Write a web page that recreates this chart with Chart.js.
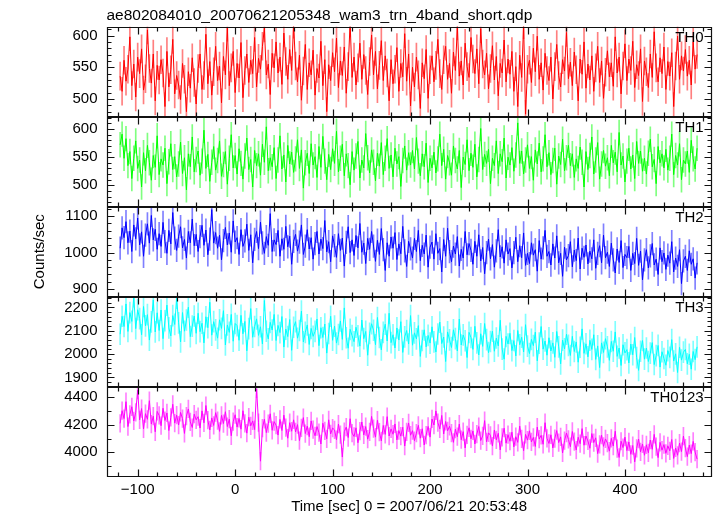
<!DOCTYPE html>
<html><head><meta charset="utf-8">
<script src="https://cdn.jsdelivr.net/npm/chart.js@4"></script>
<style>html,body{margin:0;padding:0;background:#fff}canvas{display:block}</style>
</head><body>
<canvas id="c" width="717" height="516"></canvas>
<script>
const TITLE = "ae802084010_20070621205348_wam3_trn_4band_short.qdp";
const X_TITLE = "Time [sec] 0 = 2007/06/21 20:53:48";
const Y_TITLE = "Counts/sec";
const PANEL_LABELS = ["TH0", "TH1", "TH2", "TH3", "TH0123"];
const T_START = -118, T_BIN = 2;
const X_TICKS = [-100, 0, 100, 200, 300, 400];
const X_RANGE = [-132, 489];
const Y_RANGES = [[472, 614], [462, 622], [879, 1126], [1860, 2246], [3822, 4477]];
const Y_TICKS = [[500, 550, 600], [500, 550, 600], [900, 1000, 1100], [1900, 2000, 2100, 2200], [4000, 4200, 4400]];
const Y_MINOR = [10, 10, 20, 20, 100];
const X_MINOR = 20;
const ERRORS = [22, 22, 31, 45, 64];

const TH0 = [
536,512,561,528,547,598,521,555,503,566,
540,579,514,532,609,548,525,571,497,553,
530,562,541,488,575,519,546,594,508,537,
522,499,556,531,480,543,517,565,526,492,
548,571,515,537,602,524,559,506,543,583,
529,552,494,567,538,613,521,549,575,510,
556,533,589,502,545,571,526,561,540,597,
519,564,547,583,612,538,555,507,572,549,
590,541,566,523,604,559,531,578,545,618,
552,527,569,498,544,586,515,557,538,577,
506,548,533,591,521,562,480,554,529,573,
543,596,518,560,537,582,509,551,620,534,
566,522,549,588,531,570,545,507,559,601,
538,575,516,553,592,529,568,541,497,562,
524,547,581,512,556,535,603,528,571,489,
550,519,566,538,485,557,532,578,501,546,
568,527,553,594,540,515,562,583,531,556,
509,574,545,615,536,560,522,588,551,534,
597,563,540,579,524,611,555,538,572,516,
548,584,530,567,505,556,541,593,527,563,
539,575,512,551,488,569,534,617,476,547,
561,526,580,543,599,531,557,514,572,545,
529,566,500,551,586,537,519,562,544,605,
532,558,521,574,546,497,563,539,590,517,
555,530,568,512,549,583,526,560,501,542,
576,535,557,520,598,541,566,508,552,587,
529,563,545,591,518,554,537,579,496,560,
543,518,571,534,606,549,527,565,540,582,
515,559,536,573,488,552,599,531,568,544,
578,536,561,522,590,547,570];

const TH1 = [
572,591,548,583,535,560,512,548,579,530,
545,497,558,526,571,540,509,553,532,588,
519,547,536,566,503,542,574,528,551,515,
538,577,521,549,492,556,533,586,524,546,
561,518,543,598,530,555,507,541,569,527,
544,579,516,537,560,502,548,590,531,553,
520,565,539,511,552,584,528,546,497,562,
535,556,518,573,541,604,526,549,533,567,
512,545,588,529,554,506,571,538,559,523,
547,581,530,563,495,540,557,521,574,536,
551,514,569,532,587,543,510,555,528,565,
539,596,524,548,573,517,556,535,501,560,
527,552,578,513,545,531,592,549,522,563,
541,508,557,534,576,519,548,583,530,554,
515,566,538,551,498,544,570,527,558,536,
562,529,585,543,517,556,533,575,505,548,
531,559,522,547,591,535,564,511,553,540,
518,570,544,529,562,496,550,537,581,526,
557,532,573,515,546,601,528,555,539,564,
503,548,535,579,521,556,542,584,513,550,
536,567,525,554,611,539,561,520,545,572,
530,551,509,563,538,575,524,547,590,533,
558,519,544,566,502,552,537,582,526,549,
571,535,556,514,547,530,568,541,497,560,
528,553,586,520,545,576,511,538,562,534,
549,517,571,540,559,524,594,536,552,506,
543,566,529,554,512,578,539,561,525,548,
520,557,582,533,546,503,569,540,556,531,
564,527,548,591,519,553,536,574,510,545,
538,561,523,580,547,529,566];

const TH2 = [
1012,1068,1041,1085,1027,1059,1003,1076,1038,1095,
1021,1057,990,1048,1079,1026,1102,1035,1064,1009,
1052,1017,1083,1030,998,1061,1024,1110,1040,1006,
1045,1071,1013,1036,985,1058,1027,1092,1019,1050,
1003,1044,1075,1020,1062,994,1037,1118,1026,1055,
1012,1048,980,1033,1069,1021,1054,1001,1087,1029,
1041,995,1063,1017,1032,1078,1006,1049,972,1036,
1058,1011,1084,1027,998,1044,1020,1107,1003,1035,
1022,1061,990,1038,1009,1072,1016,1045,968,1031,
1050,1004,1029,1076,995,1018,1063,1010,1041,982,
1025,1058,996,1037,1011,1088,1002,1030,975,1046,
1019,987,1052,1006,1040,963,1028,1071,1000,1035,
992,1047,1013,1080,1001,1026,970,1039,1009,1058,
1018,976,1034,995,1066,1008,951,1027,990,1043,
1012,1055,981,1024,997,1072,1005,962,1031,1010,
985,1039,1003,1061,978,1020,996,1048,960,1015,
1029,982,1052,998,1011,947,1036,990,1067,1003,
975,1018,996,1044,963,1009,985,1058,994,1025,
1006,968,1031,990,1049,977,1014,942,1000,1037,
983,1022,960,1005,1063,988,1016,971,1035,996,
1011,958,1000,1042,975,1019,986,1054,965,998,
970,1027,993,1008,949,1033,982,1013,1061,990,
1003,966,1024,985,1046,972,998,935,1015,980,
992,1030,961,1007,978,1040,955,1012,987,1021,
969,1004,983,1035,957,998,1019,972,1048,986,
1001,962,1026,980,944,1010,973,1033,959,995,
986,1017,951,998,970,1039,965,1004,925,980,
1008,958,991,1025,966,982,940,1013,975,999,
954,993,971,1030,947,985,962,1008,915,977,
990,951,1005,968,983,930,972];

const TH3 = [
2085,2162,2118,2215,2097,2178,2140,2246,2109,2190,
2152,2083,2204,2121,2169,2060,2138,2232,2095,2177,
2101,2189,2066,2143,2210,2112,2078,2165,2127,2240,
2134,2052,2178,2098,2146,2201,2075,2120,2163,2089,
2175,2096,2132,2048,2160,2113,2222,2081,2139,2104,
2068,2147,2110,2186,2039,2125,2093,2170,2055,2131,
2122,2059,2166,2087,2140,2014,2109,2195,2072,2118,
2151,2080,2117,2043,2230,2098,2065,2136,2103,2170,
2058,2123,2092,2161,2030,2107,2075,2148,2016,2115,
2139,2068,2101,2184,2052,2093,2125,2041,2110,2076,
2097,2150,2036,2113,2071,2129,2004,2088,2162,2059,
2120,2047,2084,2142,2063,2198,2070,2025,2106,2079,
2053,2115,2078,2034,2146,2066,2097,1995,2089,2130,
2102,2040,2157,2071,2018,2093,2128,2056,2175,2049,
2083,2026,2112,2060,2139,2007,2074,2101,2043,2165,
2038,2091,2065,2122,1990,2058,2104,2031,2080,2047,
2117,2052,2009,2086,2137,2045,2073,1968,2095,2061,
2028,2104,2066,2013,2150,2039,2082,2057,1985,2093,
2071,2020,2119,2048,1996,2087,2033,2131,2062,2006,
2054,2098,2012,2069,2035,2145,2021,1978,2076,2043,
2089,2015,2058,1992,2101,2040,2072,2009,2126,2034,
2002,2063,2036,2094,1971,2047,2118,2021,2056,1995,
2070,2013,2048,1986,2097,2031,1958,2060,2022,2085,
2037,1994,2076,2011,2052,1965,2029,2108,2003,2044,
1988,2059,2020,2083,1977,2035,1942,2048,2007,2066,
2031,1973,2054,2012,2095,1990,2026,1951,2040,2005,
2019,1962,2043,1997,2071,1985,1930,2012,2058,1978,
2026,1968,2004,2049,1955,1993,2037,1944,2010,1981,
1952,2015,1986,2062,1970,2001,1921,2029,1974,2008,
2020,1958,1999,1935,2011,1976,2031];

const TH0123 = [
4210,4302,4245,4368,4187,4275,4331,4228,4290,4452,
4236,4318,4170,4281,4240,4375,4205,4262,4149,4297,
4268,4193,4320,4231,4286,4158,4254,4349,4212,4270,
4198,4290,4245,4137,4262,4315,4221,4180,4277,4236,
4259,4176,4301,4214,4340,4233,4162,4250,4195,4288,
4230,4152,4268,4209,4295,4187,4241,4120,4222,4273,
4183,4246,4168,4302,4210,4139,4255,4192,4228,4165,
4461,4215,3935,4176,4240,4143,4208,4280,4160,4223,
4197,4125,4239,4158,4270,4180,4102,4215,4153,4236,
4148,4201,4085,4177,4252,4136,4190,4113,4228,4164,
4120,4187,4142,4060,4211,4155,4098,4236,4133,4176,
4162,4091,4205,4128,3965,4150,4183,4107,4244,4139,
4115,4178,4069,4154,4220,4126,4187,4095,4149,4261,
4172,4110,4233,4146,4083,4195,4130,4259,4118,4170,
4131,4206,4090,4158,4117,4182,4045,4148,4213,4124,
4157,4084,4139,4196,4102,4171,4053,4125,4188,4110,
4242,4198,4301,4215,4170,4268,4133,4224,4156,4189,
4140,4072,4168,4113,4205,4091,4150,4031,4127,4178,
4098,4155,4060,4132,4187,4085,4119,4230,4076,4141,
4123,4045,4162,4090,4138,4017,4109,4175,4066,4128,
4080,4146,4039,4113,4072,4190,4097,4011,4130,4088,
4156,4075,4108,4042,4183,4096,4123,4058,4215,4101,
4064,4127,4031,4099,4158,4070,4112,3995,4085,4140,
4093,4040,4151,4078,4016,4109,4062,4172,4051,4118,
4082,4029,4136,4070,4105,3990,4058,4124,4043,4097,
4066,4008,4101,4045,4153,4027,3962,4080,4034,4110,
4012,4075,3985,4049,3930,4028,4096,4003,4060,3978,
4054,3996,4089,4021,4130,4040,3961,4072,4015,4056,
3992,4047,4010,4093,3955,4031,3978,4066,4005,4118,
4030,3968,4052,3990,4079,4001,3950];

const SERIES = [TH0, TH1, TH2, TH3, TH0123];
const Y_IDS = ["y0", "y1", "y2", "y3", "y4"];
const COLORS = ["rgb(255,0,0)", "rgb(0,255,0)", "rgb(0,0,255)", "rgb(0,255,255)", "rgb(255,0,255)"];
const PALE = ["rgba(255,0,0,0.5)", "rgba(0,255,0,0.5)", "rgba(0,0,255,0.5)", "rgba(0,255,255,0.5)", "rgba(255,0,255,0.5)"];
const FONT = "'Liberation Sans', Arial, Helvetica, sans-serif";

const fmt = v => (v < 0 ? "\u2212" + Math.abs(v) : String(v));

const datasets = [];
SERIES.forEach((vals, k) => {
  const times = vals.map((_, i) => T_START + i * T_BIN);
  datasets.push({
    type: "line", yAxisID: Y_IDS[k], xAxisID: "x",
    data: vals.map((v, i) => ({ x: times[i], y: v })),
    borderColor: COLORS[k], borderWidth: 1, pointRadius: 0, tension: 0, order: 0, clip: 0
  });
  datasets.push({
    type: "bar", yAxisID: Y_IDS[k], xAxisID: "x",
    data: vals.map((v, i) => ({ x: times[i], y: [v - ERRORS[k], v + ERRORS[k]] })),
    backgroundColor: PALE[k], borderWidth: 0, barThickness: 1, grouped: false, order: 1, clip: 0
  });
});

const scales = {
  x: {
    type: "linear", position: "bottom", min: X_RANGE[0], max: X_RANGE[1], offset: false,
    grid: { display: false, drawTicks: false }, border: { display: false },
    afterBuildTicks: s => { s.ticks = X_TICKS.map(v => ({ value: v })); },
    ticks: { font: { family: FONT, size: 15 }, color: "#000", padding: 4, maxRotation: 0, autoSkip: false, callback: fmt },
    title: { display: true, text: X_TITLE, font: { family: FONT, size: 15 }, color: "#000", padding: { top: 0, bottom: 0 } },
    afterFit: s => { s.height = 39.3; }
  }
};
Y_IDS.forEach((id, k) => {
  scales[id] = {
    type: "linear", position: "left", stack: "panels", stackWeight: 1, weight: 5 - k,
    min: Y_RANGES[k][0], max: Y_RANGES[k][1],
    grid: { display: false, drawTicks: false }, border: { display: false },
    afterBuildTicks: s => { s.ticks = Y_TICKS[k].map(v => ({ value: v })); },
    ticks: { font: { family: FONT, size: 15 }, color: "#000", padding: 9, autoSkip: false, callback: fmt },
    title: k === 2
      ? { display: true, text: Y_TITLE, font: { family: FONT, size: 15 }, color: "#000", padding: { top: 31, bottom: 0 } }
      : { display: false },
    afterFit: s => { s.width = 106.5; }
  };
});

const framePlugin = {
  id: "frames",
  afterDatasetsDraw(chart) {
    const ctx = chart.ctx;
    const xs = chart.scales.x;
    const L = Math.round(xs.left) + 0.5, R = Math.round(xs.right) - 0.5;
    ctx.save();
    ctx.strokeStyle = "#111";
    ctx.lineWidth = 1.2;
    Y_IDS.forEach((id, k) => {
      const s = chart.scales[id];
      const T = Math.round(s.top) + 0.5, B = Math.round(s.bottom) - 0.5;
      ctx.beginPath();
      ctx.rect(L, T, R - L, B - T);
      const x0 = Math.ceil(X_RANGE[0] / X_MINOR) * X_MINOR;
      for (let v = x0; v <= X_RANGE[1]; v += X_MINOR) {
        const px = Math.round(xs.getPixelForValue(v)) + 0.5;
        const len = (v % 100 === 0) ? 7 : 4;
        ctx.moveTo(px, B); ctx.lineTo(px, B - len);
        ctx.moveTo(px, T); ctx.lineTo(px, T + len);
      }
      const st = Y_MINOR[k];
      const y0 = Math.ceil(Y_RANGES[k][0] / st) * st;
      for (let v = y0; v <= Y_RANGES[k][1]; v += st) {
        const py = Math.round(s.getPixelForValue(v)) + 0.5;
        const len = Y_TICKS[k].includes(v) ? 7 : 4;
        ctx.moveTo(L, py); ctx.lineTo(L + len, py);
        ctx.moveTo(R, py); ctx.lineTo(R - len, py);
      }
      ctx.stroke();
      ctx.fillStyle = "#000";
      ctx.font = "15px " + FONT;
      ctx.textAlign = "right";
      ctx.textBaseline = "middle";
      ctx.fillText(PANEL_LABELS[k], xs.right - 8, s.top + 11);
    });
    ctx.restore();
  }
};

new Chart(document.getElementById("c"), {
  type: "line",
  data: { datasets },
  options: {
    responsive: false, animation: false, devicePixelRatio: 1, events: [],
    layout: { padding: { left: 0, right: 5.3, top: 0, bottom: 0 } },
    plugins: {
      legend: { display: false }, tooltip: { enabled: false },
      title: {
        display: true, text: TITLE, align: "start", fullSize: false,
        font: { family: FONT, size: 15.5, weight: "normal" }, color: "#000",
        padding: { top: 6, bottom: 2.1 }
      }
    },
    scales
  },
  plugins: [framePlugin]
});
</script>
</body></html>
